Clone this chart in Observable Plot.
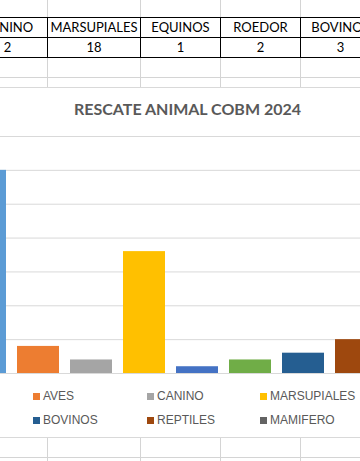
<!DOCTYPE html>
<html><head><meta charset="utf-8">
<script src="https://cdn.jsdelivr.net/npm/d3@7"></script>
<script src="https://cdn.jsdelivr.net/npm/@observablehq/plot@0.6"></script>
<style>
html,body{margin:0;padding:0;background:#fff;}
body{width:360px;height:461px;position:relative;overflow:hidden;font-family:Lato,sans-serif;}
.vl{position:absolute;width:1px;background:#d4d4d4;}
.hl{position:absolute;height:1px;background:#d4d4d4;left:0;width:360px;}
.cell{position:absolute;box-sizing:border-box;border:1px solid #000;text-align:center;font:13px Lato,sans-serif;color:#000;height:21px;line-height:19px;white-space:nowrap;overflow:hidden;}
.lg{position:absolute;font:12px "Liberation Sans",Arial,sans-serif;color:#595959;white-space:nowrap;line-height:14px;}
.sw{position:absolute;width:7px;height:7px;}
</style></head><body>
<script>
// ---- data ----
const categories = ["FELINO","AVES","CANINO","MARSUPIALES","EQUINOS","ROEDOR","BOVINOS","REPTILES","MAMIFERO"];
const rescues = [30, 4, 2, 18, 1, 2, 3, 5, null];
const colors = ["#5B9BD5","#ED7D31","#A5A5A5","#FFC000","#4472C4","#70AD47","#255E91","#9E480E","#636363"];
const yTicks = [5, 10, 15, 20, 25, 30, 35];
const title = "RESCATE ANIMAL COBM 2024";
const legendRows = [["AVES","CANINO","MARSUPIALES"],["BOVINOS","REPTILES","MAMIFERO"]];

// ---- spreadsheet background ----
const body = document.body;
function el(cls, style, text){const d=document.createElement("div");d.className=cls;Object.assign(d.style,style);if(text!=null)d.textContent=text;body.appendChild(d);return d;}
const colX = [47,140,220,300];
for (const x of colX){
  el("vl",{left:x+"px",top:"0px",height:"17px"});
  el("vl",{left:x+"px",top:"57px",height:"30px"});
  el("vl",{left:x+"px",top:"437px",height:"30px"});
}
for (const y of [77,457]) el("hl",{top:y+"px"});

// ---- data table (only the columns inside the visible window) ----
let x = 47 - 3*80;
categories.forEach((c,i)=>{
  const w = c === "MARSUPIALES" ? 93 : 80;
  if (x + w > 0 && x < 360) {
    el("cell",{left:x+"px",top:"17px",width:(w+1)+"px"}, c);
    el("cell",{left:x+"px",top:"37px",width:(w+1)+"px"}, rescues[i]==null?"":String(rescues[i]));
  }
  x += w;
});

// ---- chart ----
el("",{position:"absolute",left:"0",top:"87px",width:"360px",height:"351px",background:"#fff",borderTop:"1px solid #d9d9d9",borderBottom:"1px solid #d9d9d9",boxSizing:"border-box"});
el("",{position:"absolute",top:"99px",left:"0",width:"375px",textAlign:"center",font:"bold 16px Lato,sans-serif",color:"#595959",whiteSpace:"nowrap"}, title);

const data = categories.map((c,i)=>({cat:c, v:rescues[i]})).filter(d=>d.v!=null);
const chart = Plot.plot({
  width:360, height:250, marginTop:11, marginBottom:2, marginLeft:0, marginRight:0,
  style:{background:"transparent"},
  x:{domain:categories, range:[-47.2,441.8], padding:0.209, axis:null},
  y:{domain:[0,35], axis:null},
  color:{domain:categories, range:colors},
  marks:[
    Plot.ruleY(yTicks,{stroke:"#d9d9d9", strokeWidth:1, strokeOpacity:1}),
    Plot.barY(data,{x:"cat", y:"v", fill:"cat"}),
    Plot.ruleY([0],{stroke:"#d9d9d9", strokeWidth:1, strokeOpacity:1})
  ]
});
const wrap = el("",{position:"absolute",left:"0",top:"125px",width:"360px"});
wrap.appendChild(chart);

// ---- legend ----
const legX = [33,147,260], legY = [393,417];
legendRows.forEach((row,r)=>row.forEach((name,c)=>{
  el("sw",{left:legX[c]+"px",top:legY[r]+"px",background:colors[categories.indexOf(name)]});
  el("lg",{left:(legX[c]+10)+"px",top:(legY[r]-4)+"px"}, name);
}));
</script>
</body></html>
